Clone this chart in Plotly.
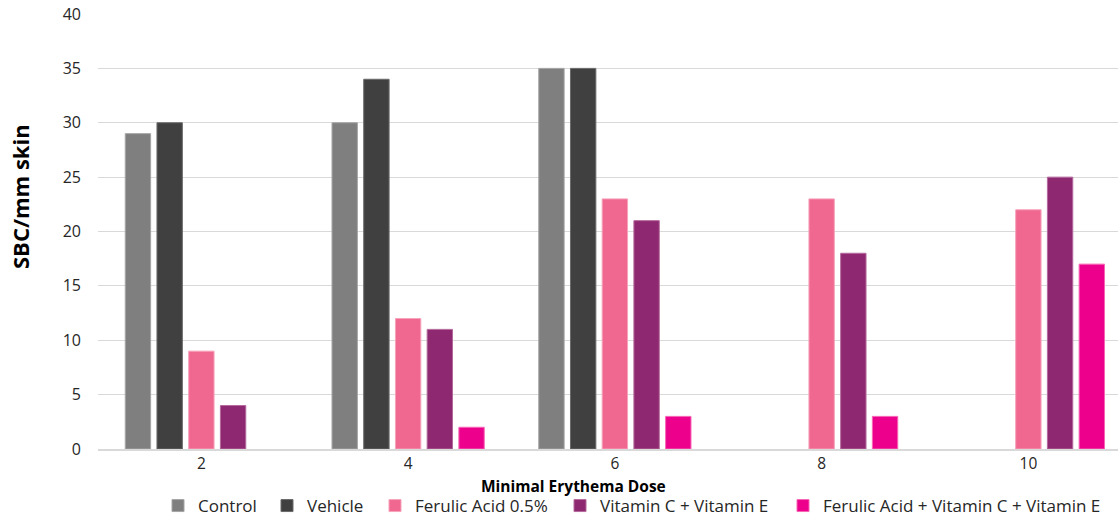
import plotly.graph_objects as go

categories = ["2", "4", "6", "8", "10"]
control = [29, 30, 35, None, None]
vehicle = [30, 34, 35, None, None]
ferulic = [9, 12, 23, 23, 22]
vit_ce = [4, 11, 21, 18, 25]
fa_ce = [None, 2, 3, 3, 17]

series_names = ["Control", "Vehicle", "Ferulic Acid 0.5%", "Vitamin C + Vitamin E",
                "Ferulic Acid + Vitamin C + Vitamin E"]
series_values = [control, vehicle, ferulic, vit_ce, fa_ce]
colors = ["#7f7f7f", "#404040", "#f0678f", "#8e2870", "#ec008c"]
edge_colors = ["#a5a5a5", "#6a6a6a", "#f7a3bc", "#b56a9d", "#f766b5"]

W, H = 1118, 518
ML, MR, MT, MB = 98, 0, 14, 69
legend_text_x = [198, 307, 415, 600, 823]
legend_keys = ["legend", "legend2", "legend3", "legend4", "legend5"]

fig = go.Figure()
for name, vals, c, ec, lk in zip(series_names, series_values, colors, edge_colors, legend_keys):
    fig.add_trace(go.Bar(
        x=categories, y=vals, name=name,
        marker=dict(color=c, line=dict(color=ec, width=1)),
        legend=lk,
    ))

font_family = "Open Sans, Noto Sans, sans-serif"
layout_legends = {}
for lk, tx in zip(legend_keys, legend_text_x):
    layout_legends[lk] = dict(
        xref="container", yref="container",
        x=(tx - 40) / W, y=1 - 506 / H,
        xanchor="left", yanchor="middle",
        orientation="h", bgcolor="rgba(0,0,0,0)",
        font=dict(family=font_family, size=17, color="#262626"),
        itemwidth=30,
    )

fig.update_layout(
    width=W, height=H,
    margin=dict(l=ML, r=MR, t=MT, b=MB, autoexpand=False),
    paper_bgcolor="white", plot_bgcolor="white",
    barmode="group", bargap=0.233, bargroupgap=0.2,
    font=dict(family=font_family, size=15, color="#262626"),
    xaxis=dict(
        type="category", range=[-0.5, -0.5 + (W - ML) / 206.75],
        showgrid=False, showline=True, linecolor="#d9d9d9", linewidth=1.5,
        ticks="", ticklabelstandoff=0,
        tickfont=dict(family=font_family, size=15.5, color="#262626"),
    ),
    yaxis=dict(
        range=[0, 40], dtick=5, showgrid=True, gridcolor="#d9d9d9", gridwidth=1,
        zeroline=False, showline=False, ticks="", ticklabelstandoff=16,
        tickfont=dict(family=font_family, size=16, color="#262626"),
    ),
    showlegend=True,
    annotations=[
        dict(text="<b>SBC/mm skin</b>", xref="paper", yref="paper",
             x=(20 - ML) / (W - ML - MR), y=1 - (197 - MT) / (H - MT - MB),
             xanchor="center", yanchor="middle", textangle=-90, showarrow=False,
             font=dict(family=font_family, size=22, color="#000000")),
        dict(text="<b>Minimal Erythema Dose</b>", xref="paper", yref="paper",
             x=(573 - ML) / (W - ML - MR), y=-(486 - (H - MB)) / (H - MT - MB),
             xanchor="center", yanchor="middle", showarrow=False,
             font=dict(family=font_family, size=15.5, color="#000000")),
    ],
    **layout_legends,
)

fig.write_html(
    "out.html",
    config={"displayModeBar": False},
    post_script="document.body.style.margin='0';document.body.style.overflow='hidden';",
)
